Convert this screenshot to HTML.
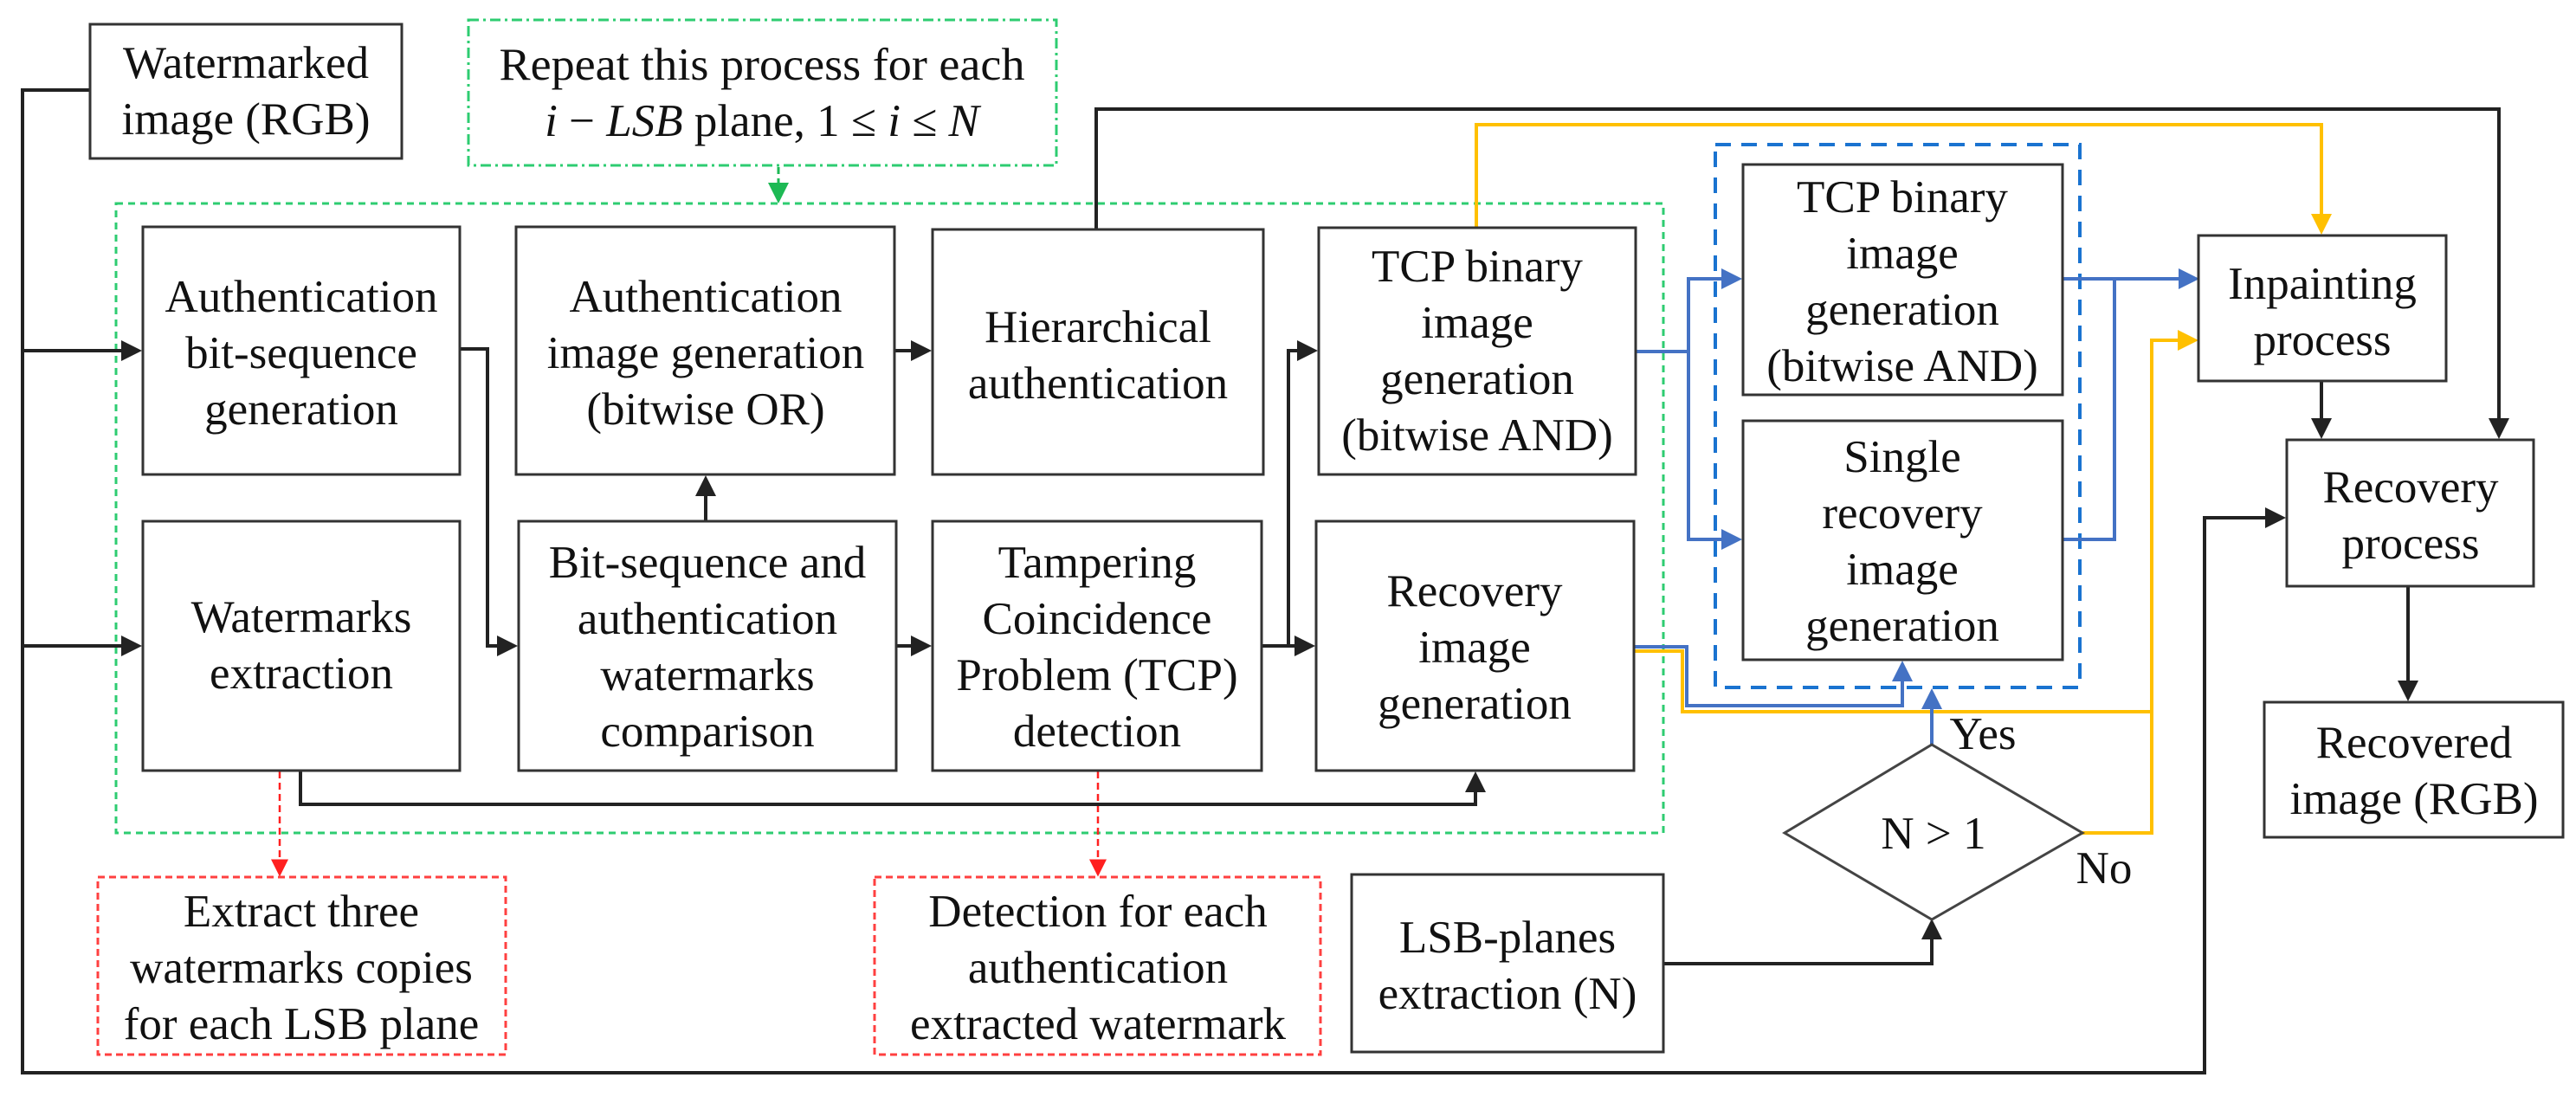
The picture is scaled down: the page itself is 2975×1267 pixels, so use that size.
<!DOCTYPE html>
<html><head><meta charset="utf-8"><style>
html,body{margin:0;padding:0;background:#fff;font-family:"Liberation Serif","Times New Roman","DejaVu Serif",serif;}
svg{display:block;}
svg text{font-family:"Liberation Serif","Times New Roman","DejaVu Serif",serif;font-size:53px;fill:#111;text-anchor:middle;}
.b{fill:#fff;stroke:#333;stroke-width:3;}
.k{fill:none;stroke:#222;stroke-width:4;}
.bl{fill:none;stroke:#4472c4;stroke-width:4;}
.y{fill:none;stroke:#ffc000;stroke-width:4;}
</style></head><body>
<svg width="2975" height="1267" viewBox="0 0 2975 1267" xmlns="http://www.w3.org/2000/svg" font-family="'Liberation Serif', 'Times New Roman', serif">
<defs>
<marker id="ak" markerWidth="6" markerHeight="6" refX="5" refY="3" orient="auto" markerUnits="strokeWidth"><path d="M0,0 L6,3 L0,6 z" fill="#222"/></marker>
<marker id="ab" markerWidth="6" markerHeight="6" refX="5" refY="3" orient="auto" markerUnits="strokeWidth"><path d="M0,0 L6,3 L0,6 z" fill="#4472c4"/></marker>
<marker id="ay" markerWidth="6" markerHeight="6" refX="5" refY="3" orient="auto" markerUnits="strokeWidth"><path d="M0,0 L6,3 L0,6 z" fill="#ffc000"/></marker>
<marker id="ag" markerWidth="8" markerHeight="8" refX="7" refY="4" orient="auto" markerUnits="strokeWidth"><path d="M0,0 L8,4 L0,8 z" fill="#1db954"/></marker>
<marker id="ar" markerWidth="8" markerHeight="8" refX="7" refY="4" orient="auto" markerUnits="strokeWidth"><path d="M0,0 L8,4 L0,8 z" fill="#ff2020"/></marker>
</defs>

<rect x="134" y="235" width="1787" height="727" fill="none" stroke="#2ecc71" stroke-width="3" stroke-dasharray="8,6"/>
<rect x="541" y="23" width="679" height="168" fill="none" stroke="#2ecc71" stroke-width="3" stroke-dasharray="12,5,3,5"/>
<rect x="1981" y="167" width="421" height="627" fill="none" stroke="#1a73d0" stroke-width="4" stroke-dasharray="18,12"/>
<rect x="113" y="1013" width="471" height="205" fill="none" stroke="#ff4040" stroke-width="3" stroke-dasharray="8,5"/>
<rect x="1010" y="1013" width="515" height="205" fill="none" stroke="#ff4040" stroke-width="3" stroke-dasharray="8,5"/>
<line x1="899" y1="193" x2="899" y2="232" stroke="#1db954" stroke-width="3" stroke-dasharray="8,5" marker-end="url(#ag)"/>
<line x1="323" y1="891" x2="323" y2="1010" stroke="#ff2020" stroke-width="2.5" stroke-dasharray="8,5" marker-end="url(#ar)"/>
<line x1="1268" y1="891" x2="1268" y2="1010" stroke="#ff2020" stroke-width="2.5" stroke-dasharray="8,5" marker-end="url(#ar)"/>

<path class="k" d="M104,104 H26 V1239 H2546 V598 H2636" marker-end="url(#ak)"/>
<path class="k" d="M26,405 H160" marker-end="url(#ak)"/>
<path class="k" d="M26,746 H160" marker-end="url(#ak)"/>
<path class="k" d="M531,403 H563 V746 H594" marker-end="url(#ak)"/>
<path class="k" d="M815,602 V553" marker-end="url(#ak)"/>
<path class="k" d="M1033,405 H1072" marker-end="url(#ak)"/>
<path class="k" d="M1035,746 H1072" marker-end="url(#ak)"/>
<path class="k" d="M1457,746 H1488 V405 H1518" marker-end="url(#ak)"/>
<path class="k" d="M1488,746 H1515" marker-end="url(#ak)"/>
<path class="k" d="M347,890 V929 H1704 V895" marker-end="url(#ak)"/>
<path class="k" d="M1266,265 V126 H2886 V503" marker-end="url(#ak)"/>
<path class="k" d="M2681,440 V503" marker-end="url(#ak)"/>
<path class="k" d="M2781,677 V806" marker-end="url(#ak)"/>
<path class="k" d="M1921,1113 H2231 V1065" marker-end="url(#ak)"/>

<path class="y" d="M1705,263 V144 H2681 V267" marker-end="url(#ay)"/>
<path class="y" d="M1887,752 H1943 V822 H2485 V393 H2535" marker-end="url(#ay)"/>
<path class="y" d="M2405,962 H2485 V822"/>

<path class="bl" d="M1889,406 H1950 V322 H2008" marker-end="url(#ab)"/>
<path class="bl" d="M1950,406 V623 H2008" marker-end="url(#ab)"/>
<path class="bl" d="M2382,322 H2536" marker-end="url(#ab)"/>
<path class="bl" d="M2382,623 H2442 V322"/>
<path class="bl" d="M1887,747 H1948 V815 H2197 V767" marker-end="url(#ab)"/>
<path class="bl" d="M2231,860 V799" marker-end="url(#ab)"/>

<rect class="b" x="104" y="28" width="360" height="155"/>
<text x="284" y="90">Watermarked</text><text x="284" y="155">image (RGB)</text>

<text x="880" y="92" textLength="607" lengthAdjust="spacingAndGlyphs">Repeat this process for each</text>
<text x="880" y="157"><tspan font-style="italic">i</tspan> − <tspan font-style="italic">LSB</tspan> plane, 1 ≤ <tspan font-style="italic">i</tspan> ≤ <tspan font-style="italic">N</tspan></text>

<rect class="b" x="165" y="262" width="366" height="286"/>
<text x="348" y="360">Authentication</text><text x="348" y="425">bit-sequence</text><text x="348" y="490">generation</text>

<rect class="b" x="596" y="262" width="437" height="286"/>
<text x="815" y="360">Authentication</text><text x="815" y="425">image generation</text><text x="815" y="490">(bitwise OR)</text>

<rect class="b" x="1077" y="265" width="382" height="283"/>
<text x="1268" y="395">Hierarchical</text><text x="1268" y="460">authentication</text>

<rect class="b" x="1523" y="263" width="366" height="285"/>
<text x="1706" y="325">TCP binary</text><text x="1706" y="390">image</text><text x="1706" y="455">generation</text><text x="1706" y="520">(bitwise AND)</text>

<rect class="b" x="165" y="602" width="366" height="288"/>
<text x="348" y="730">Watermarks</text><text x="348" y="795">extraction</text>

<rect class="b" x="599" y="602" width="436" height="288"/>
<text x="817" y="667">Bit-sequence and</text><text x="817" y="732">authentication</text><text x="817" y="797">watermarks</text><text x="817" y="862">comparison</text>

<rect class="b" x="1077" y="602" width="380" height="288"/>
<text x="1267" y="667">Tampering</text><text x="1267" y="732">Coincidence</text><text x="1267" y="797">Problem (TCP)</text><text x="1267" y="862">detection</text>

<rect class="b" x="1520" y="602" width="367" height="288"/>
<text x="1703" y="700">Recovery</text><text x="1703" y="765">image</text><text x="1703" y="830">generation</text>

<rect class="b" x="2013" y="190" width="369" height="266"/>
<text x="2197" y="245">TCP binary</text><text x="2197" y="310">image</text><text x="2197" y="375">generation</text><text x="2197" y="440">(bitwise AND)</text>

<rect class="b" x="2013" y="486" width="369" height="276"/>
<text x="2197" y="545">Single</text><text x="2197" y="610">recovery</text><text x="2197" y="675">image</text><text x="2197" y="740">generation</text>

<rect class="b" x="2539" y="272" width="286" height="168"/>
<text x="2682" y="345">Inpainting</text><text x="2682" y="410">process</text>

<rect class="b" x="2641" y="508" width="285" height="169"/>
<text x="2784" y="580">Recovery</text><text x="2784" y="645">process</text>

<rect class="b" x="2615" y="811" width="345" height="156"/>
<text x="2788" y="875">Recovered</text><text x="2788" y="940">image (RGB)</text>

<rect class="b" x="1561" y="1010" width="360" height="205"/>
<text x="1741" y="1100">LSB-planes</text><text x="1741" y="1165">extraction (N)</text>

<text x="348" y="1070">Extract three</text><text x="348" y="1135">watermarks copies</text><text x="348" y="1200">for each LSB plane</text>
<text x="1268" y="1070">Detection for each</text><text x="1268" y="1135">authentication</text><text x="1268" y="1200">extracted watermark</text>

<polygon points="2231,860 2405,962 2231,1062 2061,962" fill="#fff" stroke="#444" stroke-width="3"/>
<text x="2233" y="980">N &gt; 1</text>
<text x="2290" y="865">Yes</text>
<text x="2430" y="1020">No</text>
</svg>
</body></html>
